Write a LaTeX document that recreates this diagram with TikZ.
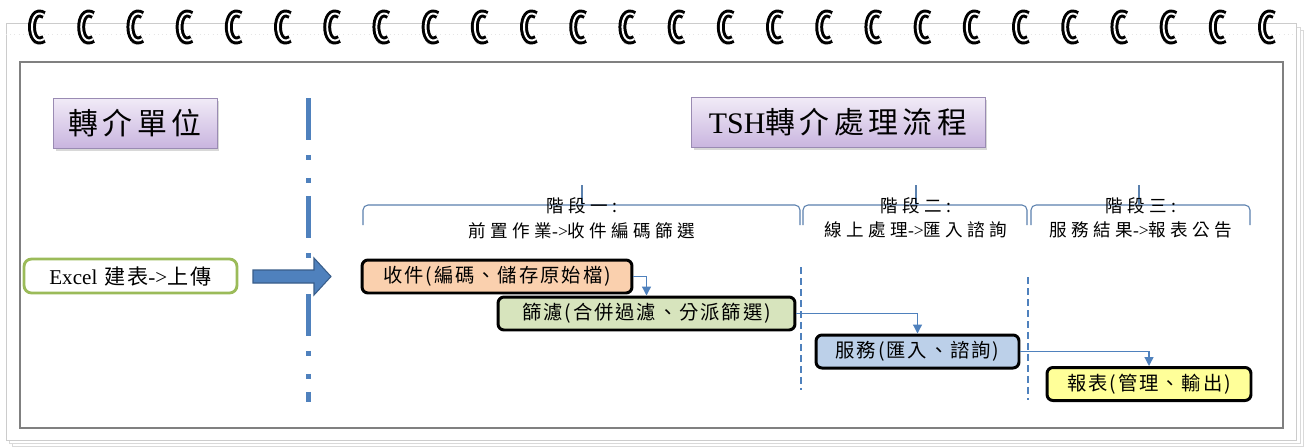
\documentclass[tikz,border=0pt]{standalone}
\usepackage{fontspec}
\setmainfont{Liberation Serif}
\newfontfamily\cjk[LetterSpace=10]{Noto Sans CJK TC}
\newfontfamily\cjkwide[LetterSpace=25]{Noto Sans CJK TC}
\newfontfamily\cjktitle[LetterSpace=15]{Noto Sans CJK TC}
\usepackage{xcolor}
\usepackage{tikz}
\usetikzlibrary{arrows.meta,positioning,shadows}

\definecolor{lineblue}{HTML}{4F81BD}
\definecolor{arrowedge}{HTML}{385D8A}
\definecolor{purpletop}{HTML}{F1EBF7}
\definecolor{purplebot}{HTML}{C9B5DF}
\definecolor{purpleedge}{HTML}{9A8BB3}
\definecolor{excelgreen}{HTML}{9BBB59}
\definecolor{recvfill}{HTML}{FAD0AE}
\definecolor{filtfill}{HTML}{D7E4BD}
\definecolor{servfill}{HTML}{BCD0E9}
\definecolor{reptfill}{HTML}{FFFF99}

\newcommand{\tto}{{\rmfamily ->}}

\begin{document}
\begin{tikzpicture}[
    x=0.02cm, y=-0.02cm,
    titlebox/.style={draw=purpleedge, top color=purpletop, bottom color=purplebot,
                     minimum height=1.0cm, font=\fontsize{17}{20}\selectfont\cjktitle,
                     drop shadow={opacity=0.3, shadow xshift=0.05cm, shadow yshift=-0.05cm}},
    stepbox/.style={draw=black, line width=1.7pt, rounded corners=0.12cm, minimum height=0.66cm,
                    inner sep=0pt, font=\fontsize{11}{13}\selectfont\cjk, fill=#1},
    stepbox/.default=white,
    stage/.style={align=center, font=\fontsize{10}{14}\selectfont\cjkwide, inner sep=0pt},
    flow/.style={lineblue, line width=0.7pt, -{Triangle[length=1.8mm, width=1.8mm]}},
    brace/.style={lineblue!75!gray, line width=0.6pt, rounded corners=0.1cm},
    phase/.style={lineblue, line width=0.6pt, dash pattern=on 0.14cm off 0.08cm},
]
    \useasboundingbox (0,0) rectangle (1307,447);

    % Notebook page and the sheets behind it
    \draw[gray!30, fill=white] (12,30) rectangle (1303,446);
    \draw[gray!30, fill=white] (9,27) rectangle (1300,443);
    \draw[gray!40, fill=white] (6,23) rectangle (1296,440);
    \draw[gray!20, dotted] (6,34) -- (1296,34);

    % Spiral rings
    \foreach \i in {0,...,25}{
        \pgfmathsetmacro\rx{38+49.2*\i}
        \fill[gray!35] (\rx,41) ellipse [x radius=6, y radius=3.5];
        \draw[line width=1.7pt, double=white, double distance=1.1pt]
            (\rx+6,15) .. controls (\rx-10,5) and (\rx-10,49) .. (\rx+6,39);
    }

    % Inner frame
    \draw[gray, line width=1.2pt] (20,62) rectangle (1283,428);

    % Headings
    \node[titlebox, minimum width=3.28cm] (unit) at (135,123) {轉介單位};
    \node[titlebox, minimum width=5.88cm] (proc) at (838,122.5) {{\rmfamily TSH}轉介處理流程};

    % Divider between the two sides
    \draw[lineblue, line width=0.1cm,
          dash pattern=on 0.84cm off 0.3cm on 0.1cm off 0.36cm on 0.1cm off 0.26cm]
        (308,98) -- (308,402);

    % Referring unit
    \node[draw=excelgreen, line width=1.6pt, rounded corners=0.15cm, fill=white,
          minimum width=4.26cm, minimum height=0.68cm,
          font=\fontsize{12}{14}\selectfont\cjk] (excel) at (130.5,276)
        {{\rmfamily Excel} 建表\tto 上傳};

    % Block arrow into the flow
    \filldraw[fill=lineblue, draw=arrowedge, line width=0.6pt]
        (253,270) -- (314,270) -- (314,258) -- (331,276.5) -- (314,295)
        -- (314,283) -- (253,283) -- cycle;

    % Stage braces
    \draw[brace] (363,225) |- (800,205) -- (800,225);
    \draw[brace] (582,205) -- (582,185);
    \draw[brace] (803,225) |- (1027,205) -- (1027,225);
    \draw[brace] (916,205) -- (916,185);
    \draw[brace] (1031,225) |- (1250,205) -- (1250,225);
    \draw[brace] (1139,205) -- (1139,185);

    % Stage labels
    \node[stage] (stage1) at (582,218) {階段一:\\前置作業\tto 收件編碼篩選};
    \node[stage] (stage2) at (916,218) {階段二:\\線上處理\tto 匯入諮詢};
    \node[stage] (stage3) at (1141,218) {階段三:\\服務結果\tto 報表公告};

    % Stage separators
    \draw[phase] (801,267) -- (801,390);
    \draw[phase] (1028,277) -- (1028,400);

    % Steps
    \node[stepbox=recvfill, minimum width=5.4cm] (recv) at (497,276.5) {收件(編碼、儲存原始檔)};
    \node[stepbox=filtfill, minimum width=5.94cm] (filt) at (646.5,313.5) {篩濾(合併過濾、分派篩選)};
    \node[stepbox=servfill, minimum width=4.06cm] (serv) at (917.5,351.5) {服務(匯入、諮詢)};
    \node[stepbox=reptfill, minimum width=4.08cm] (rept) at (1149,384) {報表(管理、輸出)};

    % Arrows
    \draw[flow] (recv.east) -| (filt.north);
    \draw[flow] (filt.east) -| (serv.north);
    \draw[flow] (serv.east) -| (rept.north);
\end{tikzpicture}
\end{document}
